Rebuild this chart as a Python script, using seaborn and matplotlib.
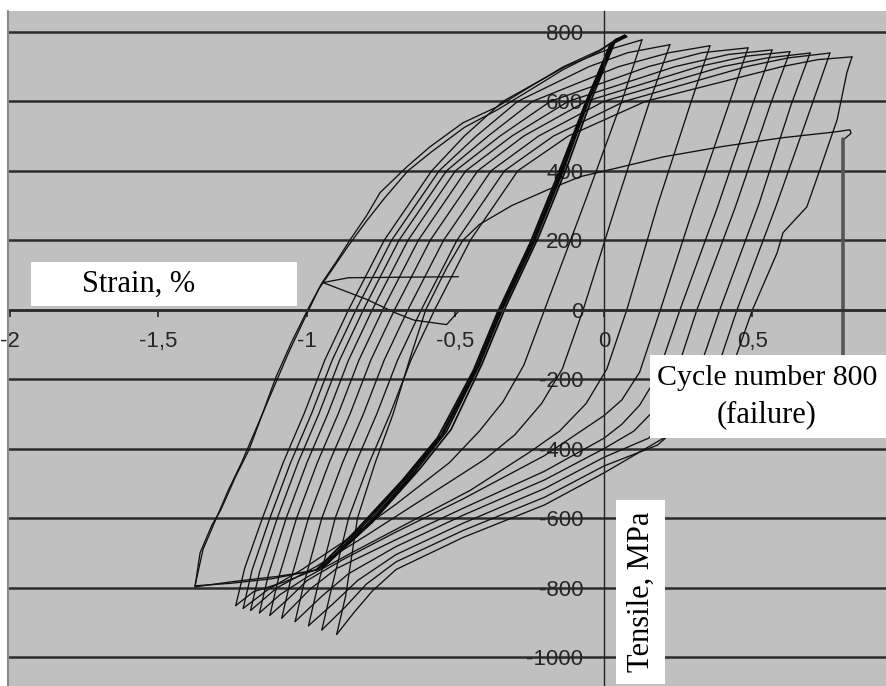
import matplotlib
matplotlib.use("Agg")
import matplotlib.pyplot as plt
import seaborn as sns
import pandas as pd
from matplotlib.patches import Rectangle
from matplotlib.lines import Line2D

# ---------------- axis ticks ----------------
x_ticks = [-2, -1.5, -1, -0.5, 0, 0.5]
x_tick_labels = ["-2", "-1,5", "-1", "-0,5", "0", "0,5"]
y_ticks = [-1000, -800, -600, -400, -200, 0, 200, 400, 600, 800]
y_tick_labels = ["-1000", "-800", "-600", "-400", "-200", "0", "200", "400", "600", "800"]

# ---------------- early (nearly elastic) cycles: thick band ----------------
band_strain = [-0.95, -0.80, -0.64, -0.53, -0.42, -0.34, -0.23, -0.135, -0.05, 0.035, 0.07,
               0.025, -0.06, -0.145, -0.24, -0.35, -0.43, -0.545, -0.66, -0.82, -0.95,
               -0.78, -0.62, -0.515, -0.41, -0.33, -0.22, -0.125, -0.04, 0.04, 0.075,
               0.02, -0.065, -0.155, -0.25, -0.36, -0.44, -0.56, -0.68, -0.84, -0.97]
band_stress = [-745, -625, -470, -350, -160, 5, 205, 405, 605, 775, 790,
               765, 595, 395, 195, -5, -170, -360, -480, -630, -745,
               -612, -458, -345, -155, 10, 210, 410, 610, 778, 788,
               762, 590, 390, 190, -10, -175, -368, -492, -640, -750]

# ---------------- first large cycles (outer loop) ----------------
c1_strain = [-0.97, -1.10, -1.25, -1.377]
c1_stress = [-750, -768, -783, -798]
u1_strain = [-1.377, -1.36, -1.32, -1.29, -1.24, -1.195, -1.15, -1.104, -1.05, -0.993, -0.949,
             -0.90, -0.855, -0.80, -0.754, -0.663, -0.586, -0.475, -0.36, -0.249, -0.138, -0.013, 0.03, 0.07]
u1_stress = [-798, -700, -620, -576, -480, -403, -300, -193, -90, 8, 78,
             140, 201, 270, 337, 412, 469, 538, 584, 642, 699, 748, 772, 790]
c1b_strain = [0.07, 0.03, -0.055, -0.14, -0.235, -0.345, -0.425, -0.54, -0.65, -0.81, -0.96, -1.12, -1.26, -1.377]
c1b_stress = [790, 768, 598, 398, 198, 0, -165, -356, -476, -628, -748, -775, -788, -795]
u1b_strain = [-1.377, -1.35, -1.30, -1.265, -1.22, -1.17, -1.12, -1.06, -1.005, -0.96, -0.92,
              -0.86, -0.80, -0.74, -0.66, -0.58, -0.47, -0.36, -0.25, -0.14, -0.02, 0.03, 0.077]
u1b_stress = [-795, -690, -590, -520, -440, -340, -240, -120, -20, 60, 110,
              185, 255, 320, 400, 455, 525, 575, 632, 690, 742, 770, 786]

# ---------------- ratcheting cycles: compression branches (C) ----------------
c2_strain = [0.077, 0.03, -0.058, -0.15, -0.245, -0.355, -0.435, -0.55, -0.67, -0.83, -0.96, -1.08, -1.18, -1.24]
c2_stress = [786, 766, 592, 392, 192, -8, -172, -362, -485, -633, -745, -785, -812, -852]
c3_strain = [0.128, 0.06, -0.06, -0.20, -0.27, -0.34, -0.42, -0.52, -0.70, -0.88, -1.02, -1.13, -1.215]
c3_stress = [777, 600, 320, 0, -160, -265, -350, -440, -560, -670, -750, -805, -860]
c4_strain = [0.222, 0.15, 0.04, -0.07, -0.14, -0.21, -0.30, -0.40, -0.60, -0.80, -0.97, -1.10, -1.19]
c4_stress = [763, 590, 300, 0, -170, -270, -360, -430, -540, -650, -740, -800, -866]
c5_strain = [0.357, 0.29, 0.18, 0.077, 0.01, -0.06, -0.15, -0.25, -0.45, -0.65, -0.85, -1.0, -1.09, -1.16]
c5_stress = [760, 590, 300, 0, -170, -270, -350, -410, -520, -610, -700, -770, -820, -873]
c6_strain = [0.485, 0.42, 0.30, 0.19, 0.12, 0.06, 0.0, -0.20, -0.475, -0.70, -0.88, -1.0, -1.06, -1.125]
c6_stress = [754, 590, 290, 0, -180, -260, -305, -420, -545, -640, -720, -780, -830, -880]
c7_strain = [0.566, 0.50, 0.38, 0.256, 0.18, 0.12, 0.06, 0.0, -0.20, -0.475, -0.70, -0.90, -0.99, -1.085]
c7_stress = [748, 590, 290, 0, -190, -275, -330, -370, -465, -572, -662, -745, -805, -888]
c8_strain = [0.626, 0.56, 0.44, 0.313, 0.24, 0.18, 0.10, 0.0, -0.20, -0.475, -0.70, -0.86, -0.95, -1.04]
c8_stress = [743, 590, 290, 0, -190, -280, -350, -400, -490, -592, -682, -760, -825, -898]
c9_strain = [0.694, 0.63, 0.52, 0.39, 0.31, 0.25, 0.15, 0.0, -0.20, -0.475, -0.70, -0.83, -0.91, -0.995]
c9_stress = [739, 590, 300, 0, -200, -290, -370, -425, -515, -615, -705, -780, -845, -910]
c10_strain = [0.761, 0.70, 0.58, 0.448, 0.37, 0.30, 0.18, 0.0, -0.20, -0.475, -0.70, -0.80, -0.87, -0.95]
c10_stress = [739, 590, 300, 0, -200, -300, -390, -450, -540, -636, -726, -790, -855, -922]
c11_strain = [0.835, 0.818, 0.785, 0.727, 0.683, 0.603, 0.583, 0.50, 0.43, 0.36, 0.26, 0.14, 0.0,
              -0.20, -0.475, -0.70, -0.78, -0.84, -0.90]
c11_stress = [728, 683, 547, 403, 296, 222, 164, 0, -170, -270, -340, -400, -470,
              -562, -656, -748, -810, -870, -935]

# ---------------- ratcheting cycles: tension branches (U) ----------------
u2_strain = [-1.24, -1.21, -1.15, -1.08, -1.01, -0.94, -0.86, -0.74, -0.58, -0.47, -0.34, -0.13, 0.0, 0.128]
u2_stress = [-852, -745, -600, -440, -300, -145, 0, 200, 400, 500, 600, 700, 745, 777]
u3_strain = [-1.215, -1.185, -1.125, -1.055, -0.985, -0.915, -0.835, -0.715, -0.555, -0.43, -0.29, -0.05, 0.08, 0.222]
u3_stress = [-860, -750, -600, -440, -300, -145, 0, 200, 400, 500, 600, 700, 740, 763]
u4_strain = [-1.19, -1.16, -1.10, -1.03, -0.96, -0.89, -0.81, -0.69, -0.53, -0.39, -0.24, 0.05, 0.22, 0.357]
u4_stress = [-866, -756, -600, -440, -300, -145, 0, 200, 400, 500, 600, 700, 740, 760]
u5_strain = [-1.16, -1.13, -1.07, -1.0, -0.93, -0.86, -0.78, -0.66, -0.50, -0.35, -0.18, 0.15, 0.33, 0.485]
u5_stress = [-873, -763, -600, -440, -300, -145, 0, 200, 400, 500, 600, 700, 740, 754]
u6_strain = [-1.125, -1.095, -1.035, -0.965, -0.895, -0.825, -0.745, -0.625, -0.465, -0.31, -0.12, 0.24, 0.42, 0.566]
u6_stress = [-880, -770, -600, -440, -300, -145, 0, 200, 400, 500, 600, 700, 735, 748]
u7_strain = [-1.085, -1.055, -0.995, -0.925, -0.855, -0.785, -0.705, -0.585, -0.425, -0.27, -0.06, 0.32, 0.48, 0.626]
u7_stress = [-888, -778, -600, -440, -300, -145, 0, 200, 400, 500, 600, 700, 730, 743]
u8_strain = [-1.04, -1.01, -0.95, -0.88, -0.81, -0.74, -0.66, -0.54, -0.38, -0.22, 0.0, 0.40, 0.55, 0.694]
u8_stress = [-898, -788, -600, -440, -300, -145, 0, 200, 400, 500, 600, 700, 725, 739]
u9_strain = [-0.995, -0.965, -0.905, -0.835, -0.765, -0.695, -0.615, -0.495, -0.335, -0.17, 0.07, 0.48, 0.62, 0.761]
u9_stress = [-910, -800, -600, -440, -300, -145, 0, 200, 400, 500, 600, 700, 725, 739]
u10_strain = [-0.95, -0.92, -0.86, -0.79, -0.72, -0.65, -0.57, -0.45, -0.29, -0.12, 0.14, 0.60, 0.72, 0.835]
u10_stress = [-922, -812, -600, -440, -300, -145, 0, 200, 400, 500, 600, 700, 720, 728]
# final (failure) cycle
u11_strain = [-0.90, -0.87, -0.83, -0.77, -0.71, -0.655, -0.60, -0.53, -0.475, -0.42, -0.31, -0.19, -0.08,
              0.054, 0.2, 0.4, 0.6, 0.78, 0.828, 0.832, 0.81]
u11_stress = [-935, -825, -600, -440, -300, -145, 0, 120, 200, 245, 300, 345, 383,
              410, 440, 470, 495, 512, 518, 508, 492]

# small irregular segments near (-0.9, 80)
odd1_strain = [-0.946, -0.86, -0.49]
odd1_stress = [78, 92, 95]
odd2_strain = [-0.946, -0.80, -0.70, -0.64, -0.53, -0.49]
odd2_stress = [78, 30, -10, -30, -43, -5]

# failure drop (grey bar)
fail_strain = [0.805, 0.805]
fail_stress = [492, -160]

# ---------------- build tables ----------------
loop_branches = [
    ("c1", c1_strain, c1_stress), ("u1", u1_strain, u1_stress),
    ("c1b", c1b_strain, c1b_stress), ("u1b", u1b_strain, u1b_stress),
    ("c2", c2_strain, c2_stress), ("u2", u2_strain, u2_stress),
    ("c3", c3_strain, c3_stress), ("u3", u3_strain, u3_stress),
    ("c4", c4_strain, c4_stress), ("u4", u4_strain, u4_stress),
    ("c5", c5_strain, c5_stress), ("u5", u5_strain, u5_stress),
    ("c6", c6_strain, c6_stress), ("u6", u6_strain, u6_stress),
    ("c7", c7_strain, c7_stress), ("u7", u7_strain, u7_stress),
    ("c8", c8_strain, c8_stress), ("u8", u8_strain, u8_stress),
    ("c9", c9_strain, c9_stress), ("u9", u9_strain, u9_stress),
    ("c10", c10_strain, c10_stress), ("u10", u10_strain, u10_stress),
    ("c11", c11_strain, c11_stress), ("u11", u11_strain, u11_stress),
    ("odd1", odd1_strain, odd1_stress), ("odd2", odd2_strain, odd2_stress),
]


def to_frame(branches):
    rows = []
    for name, xs, ys in branches:
        for i, (x, y) in enumerate(zip(xs, ys)):
            rows.append({"branch": name, "step": i, "strain": x, "stress": y})
    return pd.DataFrame(rows)


df_loops = to_frame(loop_branches)
df_band = to_frame([("band", band_strain, band_stress)])
df_fail = to_frame([("fail", fail_strain, fail_stress)])

# ---------------- figure ----------------
sns.set_theme(style="white")
plt.rcParams["font.family"] = ["Liberation Sans", "DejaVu Sans"]

W, H = 887, 686
fig = plt.figure(figsize=(W / 100, H / 100), dpi=100, facecolor="white")
ax = fig.add_axes([8 / W, 0, (W - 8) / W, (H - 11) / H])
ax.set_facecolor("#c0c0c0")

sns.lineplot(data=df_loops, x="strain", y="stress", units="branch", estimator=None,
             sort=False, color="#111111", linewidth=0.95, ax=ax, legend=False)
sns.lineplot(data=df_band, x="strain", y="stress", units="branch", estimator=None,
             sort=False, color="#0a0a0a", linewidth=1.25, ax=ax, legend=False)
sns.lineplot(data=df_fail, x="strain", y="stress", units="branch", estimator=None,
             sort=False, color="#555555", linewidth=2.6, ax=ax, legend=False)

ax.set_xlim(-2.0067, 0.9529)
ax.set_ylim(-1083.5, 860)
ax.set_xticks(x_ticks)
ax.set_xticklabels(x_tick_labels)
ax.set_yticks(y_ticks)
ax.set_yticklabels(y_tick_labels)
ax.set_xlabel("")
ax.set_ylabel("")

ax.yaxis.grid(True, color="#2b2b2b", linewidth=1.8)
ax.xaxis.grid(False)
ax.set_axisbelow(True)

for side in ("top", "right"):
    ax.spines[side].set_visible(False)
ax.spines["left"].set_position(("data", 0))
ax.spines["left"].set_color("#222222")
ax.spines["left"].set_linewidth(1.0)
ax.spines["bottom"].set_position(("data", 0))
ax.spines["bottom"].set_color("#2b2b2b")
ax.spines["bottom"].set_linewidth(1.8)

ax.tick_params(axis="y", length=0, pad=15, labelsize=16, labelcolor="#262626")
ax.tick_params(axis="x", bottom=True, length=5, width=1.2, color="#222222",
               direction="out", pad=10, labelsize=16, labelcolor="#262626")

# left edge line of the plot area
fig.add_artist(Line2D([8.5 / W, 8.5 / W], [0, (H - 11) / H], color="#8a8a8a", linewidth=1.5))

serif = ["Liberation Serif", "DejaVu Serif"]


def fig_box(x0, y0, x1, y1):
    ax.add_patch(Rectangle((x0 / W, 1 - y1 / H), (x1 - x0) / W, (y1 - y0) / H,
                           transform=fig.transFigure, facecolor="white", edgecolor="none",
                           zorder=10, clip_on=False))


fig_box(31, 262, 297, 306)
ax.text(82 / W, 1 - 284 / H, "Strain, %", transform=fig.transFigure, family=serif,
        fontsize=22, ha="left", va="center", color="black", zorder=11)

fig_box(650, 355, 900, 438)
ax.text(657 / W, 1 - 378 / H, "Cycle number 800", transform=fig.transFigure, family=serif,
        fontsize=21.5, ha="left", va="center", color="black", zorder=11)
ax.text(767 / W, 1 - 415 / H, "(failure)", transform=fig.transFigure, family=serif,
        fontsize=22, ha="center", va="center", color="black", zorder=11)

fig_box(616, 500, 665, 684)
ax.text(641 / W, 1 - 592 / H, "Tensile, MPa", transform=fig.transFigure, family=serif,
        fontsize=22, ha="center", va="center", rotation=90, color="black", zorder=11)

fig.savefig("out.png", dpi=100, facecolor="white")
